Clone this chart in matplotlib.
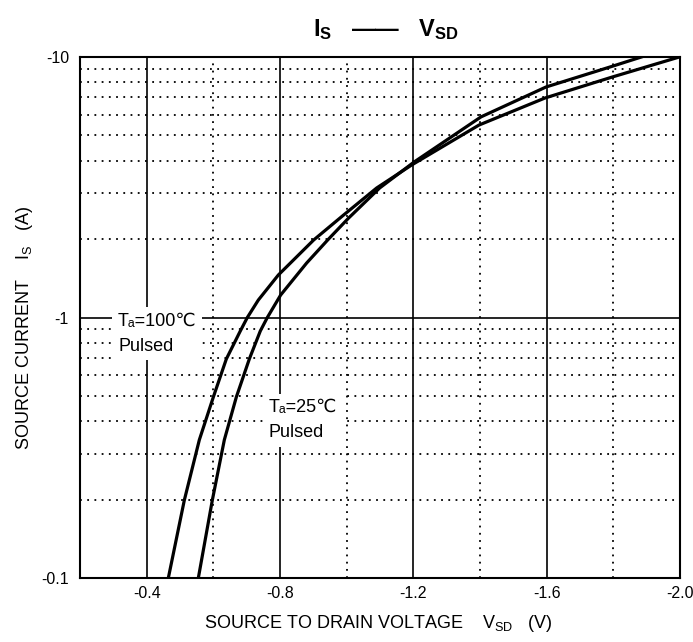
import matplotlib
matplotlib.use("Agg")
import matplotlib.pyplot as plt
from matplotlib.ticker import FixedLocator, NullFormatter

plt.rcParams["font.family"] = ["Liberation Sans", "DejaVu Sans"]
plt.rcParams["mathtext.fontset"] = "custom"
plt.rcParams["mathtext.rm"] = "Liberation Sans"
plt.rcParams["mathtext.it"] = "Liberation Sans"
plt.rcParams["mathtext.bf"] = "Liberation Sans:bold"

# Ta = 100 C, pulsed (VSD in V, |IS| in A)
vsd_100 = [-0.465, -0.513, -0.558, -0.600, -0.639, -0.681, -0.702, -0.735, -0.795,
           -0.901, -0.991, -1.090, -1.195, -1.397, -1.595, -1.797, -1.998]
is_100 = [0.100, 0.199, 0.339, 0.495, 0.693, 0.888, 1.00, 1.167, 1.456,
          1.984, 2.475, 3.142, 3.85, 5.48, 6.96, 8.38, 10.0]

# Ta = 25 C, pulsed
vsd_25 = [-0.555, -0.597, -0.633, -0.669, -0.708, -0.741, -0.762, -0.802, -0.880,
          -0.943, -1.006, -1.099, -1.202, -1.403, -1.598, -1.800, -1.884]
is_25 = [0.100, 0.199, 0.339, 0.495, 0.693, 0.888, 1.00, 1.220, 1.619,
         1.984, 2.410, 3.142, 3.95, 5.89, 7.67, 9.24, 10.0]

x_major = [-0.4, -0.8, -1.2, -1.6, -2.0]
x_minor = [-0.6, -1.0, -1.4, -1.8]
x_labels = ["-0.4", "-0.8", "-1.2", "-1.6", "-2.0"]
y_major = [0.1, 1, 10]
y_minor = [0.2, 0.3, 0.4, 0.5, 0.6, 0.7, 0.8, 0.9, 2, 3, 4, 5, 6, 7, 8, 9]
y_labels = ["-0.1", "-1", "-10"]

fig = plt.figure(figsize=(6.93, 6.42), dpi=100)
ax = fig.add_axes([80 / 693, 1 - 578 / 642, 600 / 693, 521 / 642])

ax.plot(vsd_100, is_100, color="black", lw=2.3, zorder=4)
ax.plot(vsd_25, is_25, color="black", lw=2.3, zorder=4)

ax.set_yscale("log")
ax.set_xlim(-0.2, -2.0)
ax.set_ylim(0.1, 10)

ax.xaxis.set_major_locator(FixedLocator(x_major))
ax.xaxis.set_minor_locator(FixedLocator(x_minor))
ax.set_xticklabels(x_labels)
ax.yaxis.set_major_locator(FixedLocator(y_major))
ax.yaxis.set_minor_locator(FixedLocator(y_minor))
ax.yaxis.set_minor_formatter(NullFormatter())
ax.set_yticklabels(y_labels)
ax.tick_params(which="both", length=0, labelsize=11.5)
ax.tick_params(axis="x", pad=6)
ax.tick_params(axis="y", pad=8)

ax.grid(which="major", color="black", lw=1.2, ls="-")
ax.grid(which="minor", color="black", lw=1.3, ls=(0, (1, 3)))
ax.set_axisbelow(True)
for s in ax.spines.values():
    s.set_linewidth(1.5)

ax.set_xlabel(r"SOURCE TO DRAIN VOLTAGE    V$_{SD}$   (V)", fontsize=13, va="top")
ax.xaxis.set_label_coords(0.497, -0.068)
ax.set_ylabel(r"SOURCE CURRENT    I$_S$   (A)", fontsize=13)
ax.yaxis.set_label_coords(-0.075, 0.48)

box = dict(facecolor="white", edgecolor="none", pad=4)
ax.text(-0.314, 1.04, "Tₐ=100℃\nPulsed", fontsize=13, va="top", ha="left",
        linespacing=1.6, bbox=box, zorder=3)
ax.text(-0.765, 0.485, "Tₐ=25℃\nPulsed", fontsize=13, va="top", ha="left",
        linespacing=1.6, bbox=box, zorder=3)

fig.text(0.557, 1 - 30 / 642, r"$\mathbf{I_S}$   ——   $\mathbf{V_{SD}}$",
         fontsize=17, ha="center", va="center", fontweight="bold")

fig.savefig("out.png", dpi=100)
